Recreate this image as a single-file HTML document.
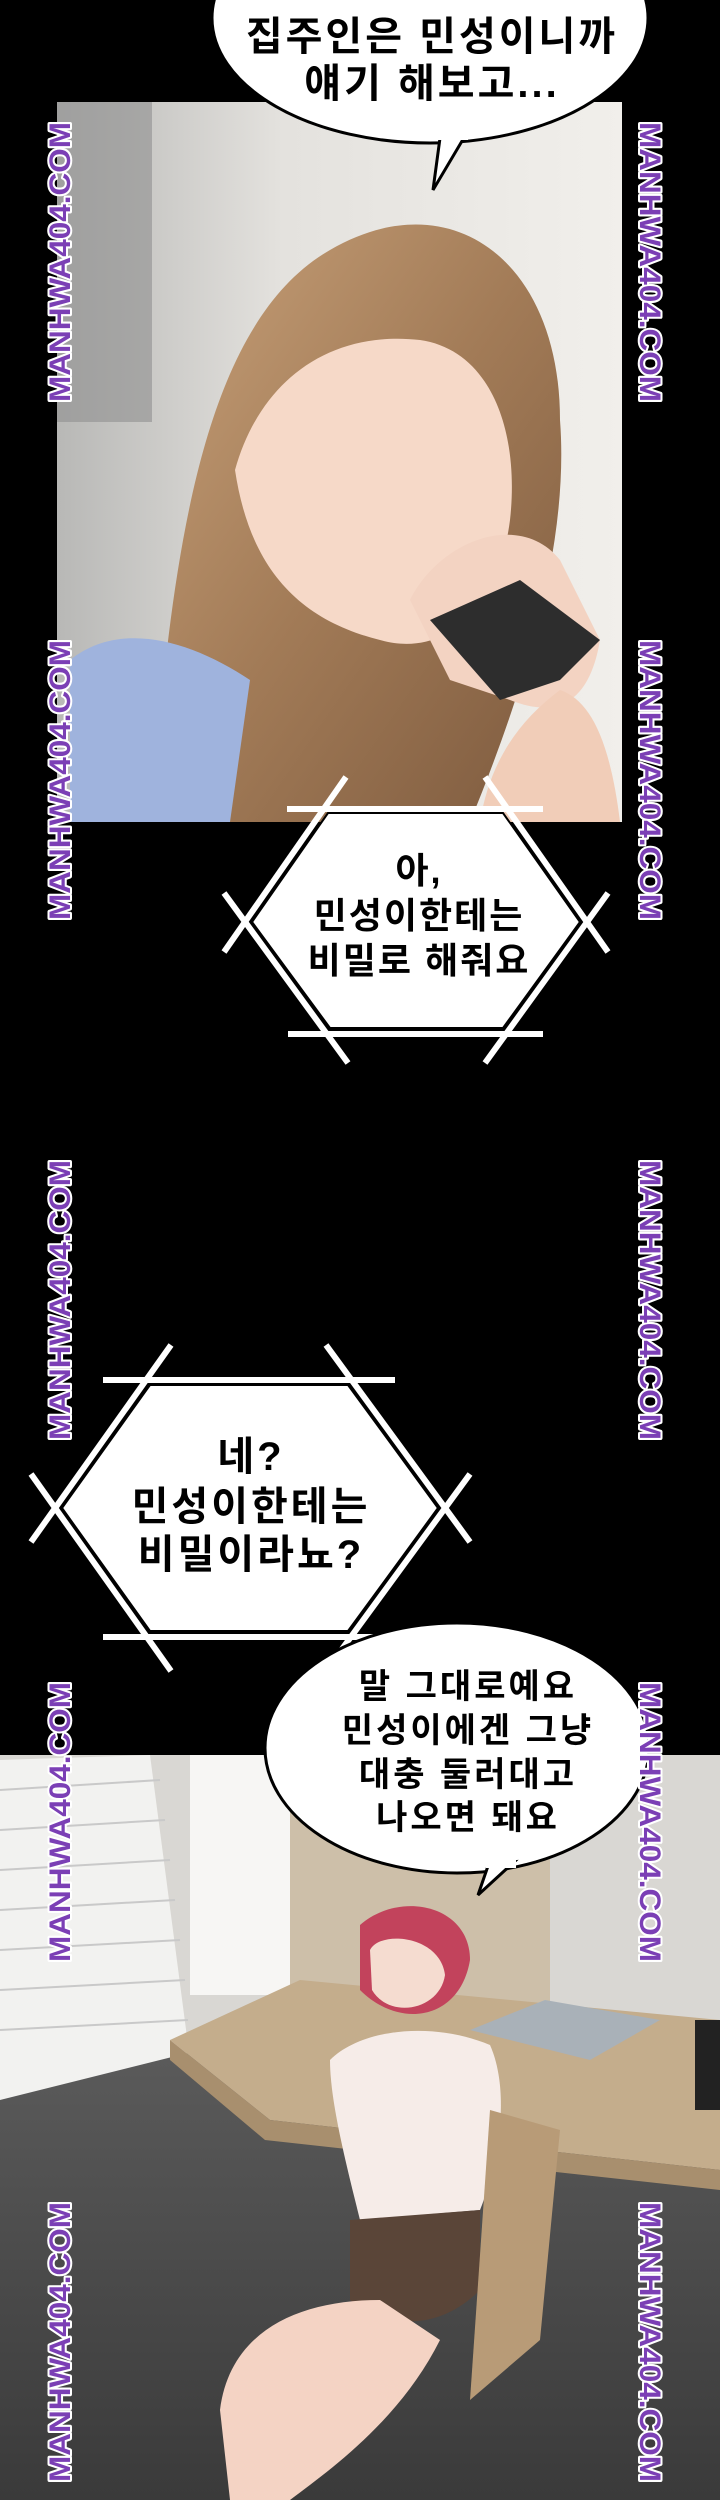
<!DOCTYPE html>
<html><head><meta charset="utf-8"><style>
html,body{margin:0;padding:0;background:#000}
body{width:720px;height:2500px;overflow:hidden;position:relative}
svg{position:absolute;left:0;top:0}
.wm{paint-order:stroke}
</style></head><body>
<svg width="720" height="2500" viewBox="0 0 720 2500" xmlns="http://www.w3.org/2000/svg">
<defs>
<linearGradient id="bg1" x1="0" y1="0" x2="1" y2="0"><stop offset="0" stop-color="#b8b8b6"/><stop offset="0.4" stop-color="#e4e2de"/><stop offset="1" stop-color="#f1efeb"/></linearGradient>
<linearGradient id="hair" x1="0" y1="0" x2="1" y2="1"><stop offset="0" stop-color="#c9a27a"/><stop offset="0.5" stop-color="#a27b57"/><stop offset="1" stop-color="#7d5a3e"/></linearGradient>
<linearGradient id="floor" x1="0" y1="0" x2="0" y2="1"><stop offset="0" stop-color="#5c5c5c"/><stop offset="1" stop-color="#3a3a3a"/></linearGradient>
</defs>
<rect width="720" height="2500" fill="#000"/>
<!-- panel 1 -->
<rect x="57" y="102" width="565" height="720" fill="url(#bg1)"/>
<rect x="57" y="102" width="95" height="320" fill="#8f8f8f" opacity="0.6"/>
<path d="M150 822 C170 600 190 330 330 250 C450 180 560 260 560 420 C570 550 520 700 470 822 Z" fill="url(#hair)"/>
<path d="M235 470 C260 380 330 330 420 340 C490 350 520 430 510 520 C500 600 450 660 380 640 C300 620 250 570 235 470Z" fill="#f6d9c8"/>
<path d="M70 822 L70 660 C120 620 190 640 250 680 L230 822Z" fill="#9fb3dd"/>
<path d="M410 600 C440 540 520 510 560 560 L600 640 C590 700 560 720 510 700 L450 680Z" fill="#f3d3c2"/>
<path d="M430 620 L520 580 L600 640 L560 680 L500 700Z" fill="#2d2d2d"/>
<path d="M480 822 C490 760 520 720 560 690 C590 700 610 740 620 822Z" fill="#f1cdb8"/>
<!-- bubble 1 -->
<ellipse cx="430" cy="18" rx="218" ry="125" fill="#fff" stroke="#000" stroke-width="3"/>
<path d="M440 138 L433 190 L465 136Z" fill="#fff" stroke="#000" stroke-width="3"/>
<rect x="438" y="126" width="30" height="14" fill="#fff"/>
<g font-family="'Liberation Sans','Noto Sans CJK KR',sans-serif" font-weight="bold" font-size="40" fill="#000" text-anchor="middle" letter-spacing="3">
<text x="432" y="50">집주인은 민성이니까</text>
<text x="432" y="97">얘기 해보고...</text>
</g>
<!-- hex 1 -->
<g stroke="#fff" stroke-width="6" fill="none">
<line x1="287" y1="809" x2="543" y2="809"/><line x1="288" y1="1034" x2="543" y2="1034"/>
<line x1="346" y1="777" x2="224" y2="952"/><line x1="224" y1="893" x2="348" y2="1063"/>
<line x1="485" y1="777" x2="608" y2="952"/><line x1="608" y1="893" x2="485" y2="1063"/>
</g>
<polygon points="328,813 503,813 580,922 503,1028 330,1028 252,922" fill="#fff" stroke="#000" stroke-width="2"/>
<g font-family="'Liberation Sans','Noto Sans CJK KR',sans-serif" font-weight="bold" font-size="36" fill="#000" text-anchor="middle" letter-spacing="2">
<text x="419" y="883">아,</text>
<text x="419" y="928">민성이한테는</text>
<text x="419" y="973">비밀로 해줘요</text>
</g>
<!-- hex 2 -->
<g stroke="#fff" stroke-width="6" fill="none">
<line x1="103" y1="1380" x2="395" y2="1380"/><line x1="103" y1="1637" x2="395" y2="1637"/>
<line x1="171" y1="1345" x2="31" y2="1542"/><line x1="31" y1="1474" x2="171" y2="1671"/>
<line x1="326" y1="1345" x2="470" y2="1542"/><line x1="470" y1="1474" x2="326" y2="1671"/>
</g>
<polygon points="150,1385 348,1385 438,1508 348,1631 150,1631 62,1508" fill="#fff" stroke="#000" stroke-width="2"/>
<g font-family="'Liberation Sans','Noto Sans CJK KR',sans-serif" font-weight="bold" font-size="40" fill="#000" text-anchor="middle" letter-spacing="3">
<text x="251" y="1470">네?</text>
<text x="251" y="1520">민성이한테는</text>
<text x="251" y="1568">비밀이라뇨?</text>
</g>
<!-- panel 3 -->
<rect x="0" y="1755" width="720" height="745" fill="#d9d7d3"/>
<path d="M0 1760 L150 1755 L190 2060 L0 2120Z" fill="#f2f2f0"/>
<g stroke="#c9c9c9" stroke-width="2">
<line x1="0" y1="1790" x2="160" y2="1780"/><line x1="0" y1="1830" x2="165" y2="1820"/><line x1="0" y1="1870" x2="170" y2="1860"/><line x1="0" y1="1910" x2="175" y2="1900"/><line x1="0" y1="1950" x2="180" y2="1940"/><line x1="0" y1="1990" x2="185" y2="1980"/><line x1="0" y1="2030" x2="188" y2="2020"/>
</g>
<rect x="190" y="1755" width="100" height="240" fill="#f7f6f4"/>
<rect x="290" y="1780" width="260" height="250" fill="#cdbfa9"/>
<path d="M0 2100 L280 2030 L720 2030 L720 2500 L0 2500Z" fill="url(#floor)"/>
<path d="M170 2040 L300 1980 L720 2020 L720 2170 L270 2120Z" fill="#c4ad8c"/>
<path d="M170 2040 L270 2120 L720 2170 L720 2190 L265 2140 L170 2060Z" fill="#a88f6e"/>
<polygon points="470,2030 545,2000 660,2020 590,2060" fill="#a9b1b8"/>
<rect x="695" y="2020" width="25" height="90" fill="#222"/>
<path d="M360 1925 C400 1890 470 1905 470 1960 C460 2020 400 2030 360 1990Z" fill="#c2435c"/>
<path d="M370 1950 C380 1930 440 1935 445 1975 C440 2010 390 2020 372 1990Z" fill="#f5dcd0"/>
<path d="M330 2060 C360 2030 430 2020 490 2045 C510 2090 500 2160 480 2210 L360 2220 C345 2160 330 2100 330 2060Z" fill="#f6ece8"/>
<path d="M350 2220 L480 2210 L480 2290 C440 2330 390 2330 350 2300Z" fill="#5a4538"/>
<path d="M220 2410 C230 2330 300 2300 380 2300 L440 2340 C400 2420 330 2470 290 2500 L230 2500Z" fill="#f4d3c4"/>
<path d="M490 2110 L560 2130 L540 2340 L470 2400Z" fill="#b89b77"/>
<!-- bubble 3 -->
<ellipse cx="457" cy="1748" rx="192" ry="125" fill="#fff" stroke="#000" stroke-width="3"/>
<path d="M488 1866 L478 1895 L514 1862Z" fill="#fff" stroke="#000" stroke-width="3"/>
<rect x="486" y="1856" width="30" height="12" fill="#fff"/>
<g font-family="'Liberation Sans','Noto Sans CJK KR',sans-serif" font-weight="bold" font-size="34" fill="#000" text-anchor="middle" letter-spacing="3">
<text x="468" y="1698">말 그대로예요</text>
<text x="468" y="1742">민성이에겐 그냥</text>
<text x="468" y="1786">대충 둘러대고</text>
<text x="468" y="1829">나오면 돼요</text>
</g>
<!-- watermarks -->
<g class="wm" font-family="'Liberation Sans Narrow','Liberation Sans',sans-serif" font-weight="bold" font-size="30" fill="#7b3fb5" stroke="#fff" stroke-width="4" stroke-linejoin="round" text-anchor="middle">
<text transform="translate(70,262) rotate(-90)" textLength="280" lengthAdjust="spacingAndGlyphs">MANHWA404.COM</text>
<text transform="translate(70,780) rotate(-90)" textLength="280" lengthAdjust="spacingAndGlyphs">MANHWA404.COM</text>
<text transform="translate(70,1300) rotate(-90)" textLength="280" lengthAdjust="spacingAndGlyphs">MANHWA404.COM</text>
<text transform="translate(70,1822) rotate(-90)" textLength="280" lengthAdjust="spacingAndGlyphs">MANHWA404.COM</text>
<text transform="translate(70,2342) rotate(-90)" textLength="280" lengthAdjust="spacingAndGlyphs">MANHWA404.COM</text>
<text transform="translate(640,262) rotate(90)" textLength="280" lengthAdjust="spacingAndGlyphs">MANHWA404.COM</text>
<text transform="translate(640,780) rotate(90)" textLength="280" lengthAdjust="spacingAndGlyphs">MANHWA404.COM</text>
<text transform="translate(640,1300) rotate(90)" textLength="280" lengthAdjust="spacingAndGlyphs">MANHWA404.COM</text>
<text transform="translate(640,1822) rotate(90)" textLength="280" lengthAdjust="spacingAndGlyphs">MANHWA404.COM</text>
<text transform="translate(640,2342) rotate(90)" textLength="280" lengthAdjust="spacingAndGlyphs">MANHWA404.COM</text>
</g>
</svg>
</body></html>
